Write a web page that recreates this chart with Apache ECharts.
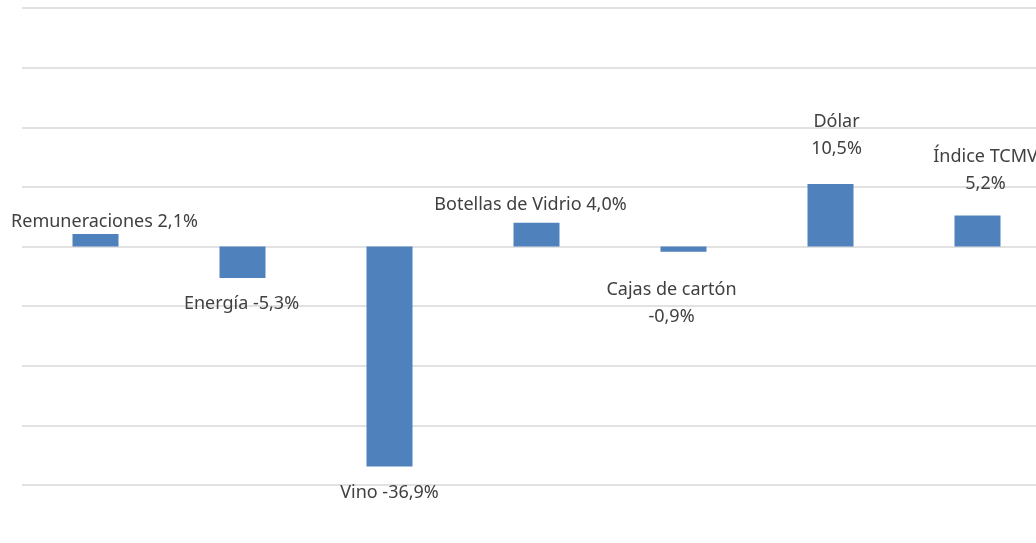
<!DOCTYPE html>
<html>
<head>
<meta charset="utf-8">
<script src="https://cdn.jsdelivr.net/npm/echarts@6/dist/echarts.min.js"></script>
<style>
  html, body { margin: 0; padding: 0; background: #fff; overflow: hidden; }
  #chart { width: 1060px; height: 543px; }
</style>
</head>
<body>
<div id="chart"></div>
<script>
// datos
var categories = ['Remuneraciones', 'Energía', 'Vino', 'Botellas de Vidrio', 'Cajas de cartón', 'Dólar', 'Índice TCMV'];
var values = [2.1, -5.3, -36.9, 4.0, -0.9, 10.5, 5.2];
var twoLines = [false, false, false, false, true, true, true];

// posiciones de etiquetas (estilo excel, colocadas a mano)
var labelPos = ['top', 'bottom', 'bottom', 'top', 'bottom', 'top', 'top'];
var labelOffset = [[9, 1], [-1, 12], [0, 13], [-6, -4], [-12, 25], [6, -22], [8, -18]];

function fmt(v) {
  return v.toFixed(1).replace('.', ',') + '%';
}

var seriesData = [];
for (var i = 0; i < values.length; i++) {
  seriesData.push({
    value: values[i],
    label: {
      position: labelPos[i],
      offset: labelOffset[i],
      formatter: categories[i] + (twoLines[i] ? '\n' : ' ') + fmt(values[i])
    }
  });
}

var myChart = echarts.init(document.getElementById('chart'));

var option = {
  animation: false,
  grid: {
    left: 22,
    top: 8,
    width: 1029,
    bottom: 58
  },
  xAxis: {
    type: 'category',
    data: categories,
    axisLine: { show: false },
    axisTick: { show: false },
    axisLabel: { show: false }
  },
  yAxis: {
    type: 'value',
    min: -40,
    max: 40,
    interval: 10,
    axisLine: { show: false },
    axisTick: { show: false },
    axisLabel: { show: false },
    splitLine: { lineStyle: { color: '#d9d9d9', width: 1.5 } }
  },
  series: [
    {
      type: 'bar',
      barWidth: 46,
      itemStyle: { color: '#4f81bd' },
      label: {
        show: true,
        distance: 0,
        color: '#404040',
        fontFamily: 'Noto Sans',
        fontSize: 18,
        lineHeight: 27
      },
      data: seriesData
    }
  ]
};

myChart.setOption(option);
</script>
</body>
</html>
